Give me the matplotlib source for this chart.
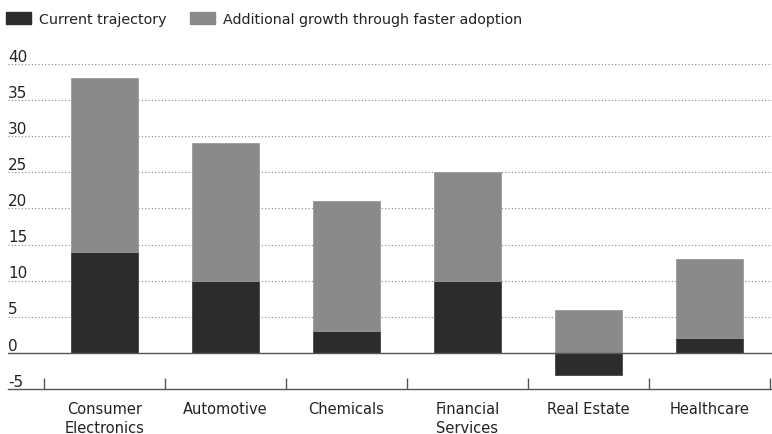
import numpy as np
import matplotlib.pyplot as plt
from matplotlib.patches import Patch
from matplotlib.transforms import blended_transform_factory

categories = ["Consumer\nElectronics", "Automotive", "Chemicals",
              "Financial\nServices", "Real Estate", "Healthcare"]
current = [14, 10, 3, 10, -3, 2]
additional = [24, 19, 18, 15, 6, 11]
yticks = [-5, 0, 5, 10, 15, 20, 25, 30, 35, 40]

dark = "#2c2c2c"
grey = "#8a8a8a"
txt = "#222222"

plt.rcParams['font.family'] = ['DejaVu Sans']

fig = plt.figure(figsize=(7.72, 4.35), dpi=100)
ax = fig.add_axes([8/772, 45/435, 1 - 8/772, 330/435])

x = np.arange(len(categories))
cur = np.array(current, dtype=float)
add = np.array(additional, dtype=float)
bottom_add = np.where(cur > 0, cur, 0)

# gridlines
for t in yticks[2:]:
    ax.axhline(t, color="#888888", lw=0.8, ls=(0, (1, 2)), zorder=1)
ax.axhline(0, color="#555555", lw=1.0, zorder=3)

ax.bar(x, cur, width=0.555, color=dark, edgecolor="#444444", lw=0.6, zorder=2)
ax.bar(x, add, width=0.555, bottom=bottom_add, color=grey, edgecolor="#9a9a9a", lw=0.6, zorder=2)

ax.set_xlim(-0.80, 5.52)
ax.set_ylim(-5, 40.7)

for s in ["top", "right", "left"]:
    ax.spines[s].set_visible(False)
ax.spines["bottom"].set_color("#555555")
ax.spines["bottom"].set_linewidth(1.0)

ax.set_yticks([])
trans = blended_transform_factory(ax.transAxes, ax.transData)
for t in yticks:
    ax.text(0.0, t + 0.05, str(t), transform=trans, ha="left", va="bottom",
            fontsize=11, color=txt)

ax.set_xticks(x)
ax.set_xticklabels(categories, fontsize=10.5, color=txt, linespacing=1.3)
ax.tick_params(axis="x", which="major", length=0, pad=9)
ax.set_xticks(np.arange(-0.5, len(categories), 1.0), minor=True)
ax.tick_params(axis="x", which="minor", direction="in", length=8, width=1.0, color="#555555")

handles = [Patch(facecolor=dark, edgecolor=dark, label="Current trajectory"),
           Patch(facecolor=grey, edgecolor=grey, label="Additional growth through faster adoption")]
fig.legend(handles=handles, loc="upper left", bbox_to_anchor=(0.0, 0.986), ncol=2,
           frameon=False, fontsize=10.3, handlelength=1.75, handleheight=1.0,
           handletextpad=0.55, columnspacing=1.6, borderaxespad=0.05,
           labelcolor=txt)

fig.savefig("out.png", dpi=100)
